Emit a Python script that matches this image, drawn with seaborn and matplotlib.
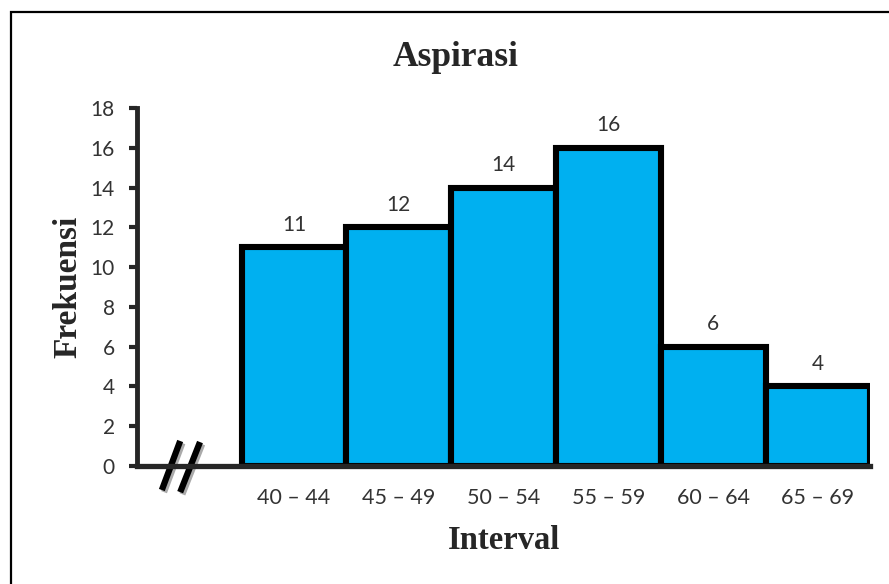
import numpy as np
import pandas as pd
import seaborn as sns
import matplotlib.pyplot as plt
from matplotlib.patches import Rectangle

intervals = ["40 – 44", "45 – 49", "50 – 54", "55 – 59", "60 – 64", "65 – 69"]
frekuensi = [11, 12, 14, 16, 6, 4]

df = pd.DataFrame({"Interval": intervals, "Frekuensi": frekuensi})

sns.set_style("white")
plt.rcParams['font.family'] = ['Lato', 'DejaVu Sans']

fig = plt.figure(figsize=(8.89, 5.84), dpi=100)
ax = fig.add_axes([0.154, 0.202, 0.825, 0.613])

# blank slot in front of the first class for the axis break
sns.barplot(data=df, x="Interval", y="Frekuensi", order=[""] + intervals,
            color="#00B0F0", saturation=1, width=1.0,
            edgecolor="black", linewidth=4.4, ax=ax)

for c in ax.containers:
    ax.bar_label(c, labels=[str(v) for v in frekuensi], padding=9,
                 fontsize=15, color="#333333")

ax.set_xlim(-0.5, 6.5)
ax.set_ylim(0, 18)
ax.set_yticks(np.arange(0, 19, 2))
for s in ["top", "right"]:
    ax.spines[s].set_visible(False)
ax.spines["left"].set_linewidth(3.5)
ax.spines["bottom"].set_linewidth(3.8)
ax.tick_params(axis="y", direction="out", length=6, width=3, labelsize=15,
               labelcolor="#333333", left=True, pad=10)
ax.tick_params(axis="x", length=0, labelsize=15.5, labelcolor="#333333", pad=16)

serif = ["Liberation Serif", "DejaVu Serif"]
fig.text(456 / 889, 1 - 58 / 584, "Aspirasi", family=serif, fontsize=25.5,
         fontweight="bold", ha="center", va="center")
ax.set_xlabel("Interval", family=serif, fontsize=23.5, fontweight="bold", labelpad=12)
ax.set_ylabel("Frekuensi", family=serif, fontsize=24, fontweight="bold", labelpad=5)

# axis break mark
for x0, x1, y0, y1 in [(0.034, 0.059, -0.067, 0.070), (0.059, 0.086, -0.073, 0.067)]:
    ax.plot([x0 + 0.003, x1 + 0.003], [y0 - 0.006, y1 - 0.006], color="#aaaaaa",
            lw=4.5, transform=ax.transAxes, clip_on=False, solid_capstyle="butt")
    ax.plot([x0, x1], [y0, y1], color="black", lw=4.5,
            transform=ax.transAxes, clip_on=False, solid_capstyle="butt")

# outer frame
fig.patches.append(Rectangle((0.012, -0.1), 1.2, 1.079, transform=fig.transFigure,
                             fill=False, edgecolor="black", linewidth=1.6))

fig.savefig("out.png", dpi=100)
